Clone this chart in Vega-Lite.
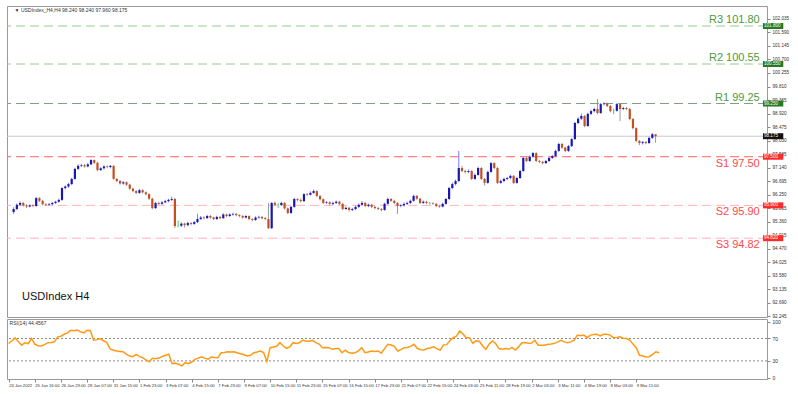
{
"$schema":"https://vega.github.io/schema/vega-lite/v6.json",
"padding":{"left":5,"top":5,"right":0,"bottom":0},
"autosize":{"type":"pad"},
"background":"white",
"bounds":"flush",
"spacing":2,
"config":{"font":"Liberation Sans","view":{"stroke":"#9a9a9a"},"axis":{"labelFontSize":5,"labelColor":"#333333","tickColor":"#888888","tickSize":3,"labelPadding":2,"domain":false,"grid":false,"title":null,"labelOverlap":false,"labelFlush":false,"tickCount":60}},
"datasets":{
"candles":[
{"i":0,"o":95.68,"h":95.84,"l":95.62,"c":95.78,"r":61},
{"i":1,"o":95.78,"h":95.96,"l":95.74,"c":95.92,"r":66},
{"i":2,"o":95.92,"h":96.03,"l":95.88,"c":95.98,"r":71},
{"i":3,"o":95.98,"h":96.01,"l":95.86,"c":95.90,"r":64},
{"i":4,"o":95.90,"h":95.94,"l":95.81,"c":95.86,"r":58},
{"i":5,"o":95.86,"h":95.93,"l":95.83,"c":95.90,"r":62.5},
{"i":6,"o":95.90,"h":95.93,"l":95.84,"c":95.88,"r":61},
{"i":7,"o":95.88,"h":96.18,"l":95.86,"c":96.14,"r":70},
{"i":8,"o":96.14,"h":96.17,"l":96.01,"c":96.05,"r":60},
{"i":9,"o":96.05,"h":96.08,"l":95.90,"c":95.94,"r":57},
{"i":10,"o":95.94,"h":95.97,"l":95.88,"c":95.92,"r":56.6},
{"i":11,"o":95.92,"h":95.98,"l":95.89,"c":95.94,"r":59},
{"i":12,"o":95.94,"h":96.01,"l":95.91,"c":95.98,"r":62.5},
{"i":13,"o":95.98,"h":96.05,"l":95.95,"c":96.02,"r":63},
{"i":14,"o":96.02,"h":96.12,"l":95.99,"c":96.08,"r":64},
{"i":15,"o":96.08,"h":96.50,"l":96.05,"c":96.47,"r":73},
{"i":16,"o":96.47,"h":96.56,"l":96.42,"c":96.52,"r":74},
{"i":17,"o":96.52,"h":96.64,"l":96.48,"c":96.60,"r":77.5},
{"i":18,"o":96.60,"h":96.81,"l":96.57,"c":96.77,"r":80},
{"i":19,"o":96.77,"h":97.14,"l":96.74,"c":97.10,"r":84.6},
{"i":20,"o":97.10,"h":97.25,"l":97.06,"c":97.20,"r":84},
{"i":21,"o":97.20,"h":97.27,"l":97.16,"c":97.22,"r":85},
{"i":22,"o":97.22,"h":97.26,"l":97.14,"c":97.18,"r":82},
{"i":23,"o":97.18,"h":97.29,"l":97.15,"c":97.25,"r":80},
{"i":24,"o":97.25,"h":97.42,"l":97.22,"c":97.39,"r":84.6},
{"i":25,"o":97.39,"h":97.41,"l":97.26,"c":97.30,"r":84},
{"i":26,"o":97.30,"h":97.33,"l":97.02,"c":97.06,"r":67},
{"i":27,"o":97.06,"h":97.16,"l":97.03,"c":97.12,"r":68},
{"i":28,"o":97.12,"h":97.22,"l":97.08,"c":97.18,"r":69.6},
{"i":29,"o":97.18,"h":97.22,"l":97.12,"c":97.16,"r":66},
{"i":30,"o":97.16,"h":97.23,"l":97.12,"c":97.20,"r":63},
{"i":31,"o":97.20,"h":97.22,"l":96.74,"c":96.77,"r":52},
{"i":32,"o":96.77,"h":96.80,"l":96.66,"c":96.70,"r":49},
{"i":33,"o":96.70,"h":96.74,"l":96.58,"c":96.62,"r":47.7},
{"i":34,"o":96.62,"h":96.70,"l":96.58,"c":96.66,"r":47},
{"i":35,"o":96.66,"h":96.69,"l":96.54,"c":96.58,"r":46.4},
{"i":36,"o":96.58,"h":96.61,"l":96.41,"c":96.45,"r":42},
{"i":37,"o":96.45,"h":96.48,"l":96.33,"c":96.37,"r":38.7},
{"i":38,"o":96.37,"h":96.40,"l":96.27,"c":96.31,"r":37.5},
{"i":39,"o":96.31,"h":96.44,"l":96.28,"c":96.40,"r":41.7},
{"i":40,"o":96.40,"h":96.43,"l":96.29,"c":96.33,"r":38},
{"i":41,"o":96.33,"h":96.36,"l":96.23,"c":96.27,"r":35.7},
{"i":42,"o":96.27,"h":96.30,"l":96.08,"c":96.12,"r":32},
{"i":43,"o":96.12,"h":96.15,"l":95.77,"c":95.81,"r":28.6},
{"i":44,"o":95.81,"h":96.01,"l":95.78,"c":95.98,"r":34.6},
{"i":45,"o":95.98,"h":96.02,"l":95.91,"c":95.95,"r":34},
{"i":46,"o":95.95,"h":96.04,"l":95.92,"c":96.00,"r":35},
{"i":47,"o":96.00,"h":96.08,"l":95.97,"c":96.04,"r":38},
{"i":48,"o":96.04,"h":96.12,"l":96.00,"c":96.08,"r":40},
{"i":49,"o":96.08,"h":96.18,"l":96.04,"c":96.11,"r":41.8},
{"i":50,"o":96.11,"h":96.14,"l":95.16,"c":95.22,"r":25},
{"i":51,"o":95.22,"h":95.40,"l":95.18,"c":95.23,"r":26},
{"i":52,"o":95.23,"h":95.34,"l":95.19,"c":95.30,"r":24},
{"i":53,"o":95.30,"h":95.33,"l":95.17,"c":95.25,"r":21},
{"i":54,"o":95.25,"h":95.36,"l":95.21,"c":95.32,"r":26.8},
{"i":55,"o":95.32,"h":95.35,"l":95.24,"c":95.29,"r":25},
{"i":56,"o":95.29,"h":95.39,"l":95.26,"c":95.35,"r":28},
{"i":57,"o":95.35,"h":95.62,"l":95.32,"c":95.45,"r":32.8},
{"i":58,"o":95.45,"h":95.55,"l":95.42,"c":95.50,"r":35},
{"i":59,"o":95.50,"h":95.54,"l":95.44,"c":95.48,"r":37.5},
{"i":60,"o":95.48,"h":95.59,"l":95.45,"c":95.55,"r":35},
{"i":61,"o":95.55,"h":95.58,"l":95.46,"c":95.50,"r":33},
{"i":62,"o":95.50,"h":95.53,"l":95.41,"c":95.45,"r":37},
{"i":63,"o":95.45,"h":95.56,"l":95.42,"c":95.52,"r":36},
{"i":64,"o":95.52,"h":95.55,"l":95.44,"c":95.48,"r":35.7},
{"i":65,"o":95.48,"h":95.64,"l":95.45,"c":95.60,"r":44.6},
{"i":66,"o":95.60,"h":95.63,"l":95.51,"c":95.55,"r":45},
{"i":67,"o":95.55,"h":95.64,"l":95.52,"c":95.60,"r":46.4},
{"i":68,"o":95.60,"h":95.66,"l":95.56,"c":95.62,"r":46},
{"i":69,"o":95.62,"h":95.65,"l":95.54,"c":95.58,"r":46.4},
{"i":70,"o":95.58,"h":95.61,"l":95.51,"c":95.55,"r":44},
{"i":71,"o":95.55,"h":95.58,"l":95.46,"c":95.50,"r":42.9},
{"i":72,"o":95.50,"h":95.58,"l":95.47,"c":95.55,"r":41},
{"i":73,"o":95.55,"h":95.57,"l":95.41,"c":95.45,"r":38.7},
{"i":74,"o":95.45,"h":95.48,"l":95.38,"c":95.42,"r":40},
{"i":75,"o":95.42,"h":95.54,"l":95.39,"c":95.50,"r":44.6},
{"i":76,"o":95.50,"h":95.56,"l":95.47,"c":95.52,"r":46},
{"i":77,"o":95.52,"h":95.55,"l":95.44,"c":95.48,"r":47.7},
{"i":78,"o":95.48,"h":95.52,"l":95.41,"c":95.45,"r":45},
{"i":79,"o":95.45,"h":95.98,"l":95.12,"c":95.15,"r":28.6},
{"i":80,"o":95.15,"h":96.01,"l":95.12,"c":95.98,"r":53.6},
{"i":81,"o":95.98,"h":96.03,"l":95.88,"c":95.92,"r":55},
{"i":82,"o":95.92,"h":95.97,"l":95.82,"c":95.91,"r":56},
{"i":83,"o":95.91,"h":96.02,"l":95.88,"c":95.98,"r":62.5},
{"i":84,"o":95.98,"h":96.01,"l":95.76,"c":95.80,"r":56.6},
{"i":85,"o":95.80,"h":95.83,"l":95.61,"c":95.65,"r":52.5},
{"i":86,"o":95.65,"h":95.88,"l":95.62,"c":95.85,"r":55},
{"i":87,"o":95.85,"h":96.15,"l":95.82,"c":96.11,"r":62.5},
{"i":88,"o":96.11,"h":96.14,"l":96.03,"c":96.08,"r":61},
{"i":89,"o":96.08,"h":96.12,"l":96.00,"c":96.04,"r":62.5},
{"i":90,"o":96.04,"h":96.30,"l":96.01,"c":96.27,"r":67.3},
{"i":91,"o":96.27,"h":96.31,"l":96.21,"c":96.25,"r":65},
{"i":92,"o":96.25,"h":96.36,"l":96.22,"c":96.31,"r":65},
{"i":93,"o":96.31,"h":96.42,"l":96.28,"c":96.37,"r":66.8},
{"i":94,"o":96.37,"h":96.39,"l":96.17,"c":96.21,"r":62.5},
{"i":95,"o":96.21,"h":96.24,"l":96.06,"c":96.10,"r":60},
{"i":96,"o":96.10,"h":96.13,"l":95.94,"c":95.98,"r":53.6},
{"i":97,"o":95.98,"h":96.04,"l":95.95,"c":96.00,"r":54},
{"i":98,"o":96.00,"h":96.03,"l":95.91,"c":95.95,"r":53.6},
{"i":99,"o":95.95,"h":96.02,"l":95.91,"c":95.98,"r":50.7},
{"i":100,"o":95.98,"h":96.06,"l":95.94,"c":96.02,"r":52},
{"i":101,"o":96.02,"h":96.05,"l":95.91,"c":95.95,"r":52},
{"i":102,"o":95.95,"h":95.98,"l":95.74,"c":95.78,"r":44.6},
{"i":103,"o":95.78,"h":95.86,"l":95.75,"c":95.82,"r":49},
{"i":104,"o":95.82,"h":95.85,"l":95.70,"c":95.75,"r":45},
{"i":105,"o":95.75,"h":95.82,"l":95.71,"c":95.78,"r":43.6},
{"i":106,"o":95.78,"h":95.89,"l":95.74,"c":95.85,"r":44.6},
{"i":107,"o":95.85,"h":95.96,"l":95.81,"c":95.92,"r":48},
{"i":108,"o":95.92,"h":96.04,"l":95.88,"c":95.98,"r":53.6},
{"i":109,"o":95.98,"h":96.01,"l":95.84,"c":95.88,"r":44.6},
{"i":110,"o":95.88,"h":95.96,"l":95.84,"c":95.92,"r":46},
{"i":111,"o":95.92,"h":95.95,"l":95.81,"c":95.85,"r":47.7},
{"i":112,"o":95.85,"h":95.89,"l":95.77,"c":95.81,"r":47},
{"i":113,"o":95.81,"h":95.85,"l":95.74,"c":95.78,"r":47.7},
{"i":114,"o":95.78,"h":95.81,"l":95.70,"c":95.75,"r":43.6},
{"i":115,"o":95.75,"h":95.99,"l":95.72,"c":95.95,"r":52},
{"i":116,"o":95.95,"h":96.16,"l":95.92,"c":96.11,"r":59.6},
{"i":117,"o":96.11,"h":96.14,"l":96.01,"c":96.05,"r":58.4},
{"i":118,"o":96.05,"h":96.08,"l":95.94,"c":95.98,"r":56},
{"i":119,"o":95.98,"h":96.01,"l":95.62,"c":95.88,"r":47.7},
{"i":120,"o":95.88,"h":95.94,"l":95.84,"c":95.90,"r":50},
{"i":121,"o":95.90,"h":95.99,"l":95.86,"c":95.95,"r":53.6},
{"i":122,"o":95.95,"h":96.02,"l":95.91,"c":95.98,"r":54},
{"i":123,"o":95.98,"h":96.09,"l":95.94,"c":96.05,"r":56},
{"i":124,"o":96.05,"h":96.25,"l":96.02,"c":96.21,"r":59.6},
{"i":125,"o":96.21,"h":96.24,"l":96.08,"c":96.12,"r":52.5},
{"i":126,"o":96.12,"h":96.15,"l":95.94,"c":95.98,"r":50},
{"i":127,"o":95.98,"h":96.06,"l":95.95,"c":96.02,"r":49.5},
{"i":128,"o":96.02,"h":96.05,"l":95.94,"c":95.98,"r":52},
{"i":129,"o":95.98,"h":96.01,"l":95.93,"c":95.97,"r":53},
{"i":130,"o":95.97,"h":96.00,"l":95.92,"c":95.95,"r":55},
{"i":131,"o":95.95,"h":95.98,"l":95.84,"c":95.88,"r":52},
{"i":132,"o":95.88,"h":95.92,"l":95.82,"c":95.86,"r":48.9},
{"i":133,"o":95.86,"h":95.99,"l":95.83,"c":95.95,"r":58.4},
{"i":134,"o":95.95,"h":96.15,"l":95.92,"c":96.11,"r":59},
{"i":135,"o":96.11,"h":96.51,"l":96.08,"c":96.47,"r":66},
{"i":136,"o":96.47,"h":96.65,"l":96.43,"c":96.60,"r":71.4},
{"i":137,"o":96.60,"h":96.75,"l":96.56,"c":96.70,"r":74},
{"i":138,"o":96.70,"h":97.69,"l":96.66,"c":97.13,"r":83.4},
{"i":139,"o":97.13,"h":97.20,"l":96.99,"c":97.03,"r":78},
{"i":140,"o":97.03,"h":97.07,"l":96.95,"c":97.00,"r":71.4},
{"i":141,"o":97.00,"h":97.08,"l":96.96,"c":97.03,"r":71.4},
{"i":142,"o":97.03,"h":97.06,"l":96.73,"c":96.77,"r":61.4},
{"i":143,"o":96.77,"h":96.95,"l":96.74,"c":96.90,"r":66},
{"i":144,"o":96.90,"h":97.17,"l":96.87,"c":97.13,"r":65},
{"i":145,"o":97.13,"h":97.16,"l":96.73,"c":96.77,"r":56.6},
{"i":146,"o":96.77,"h":96.80,"l":96.55,"c":96.64,"r":50.7},
{"i":147,"o":96.64,"h":97.04,"l":96.61,"c":97.00,"r":60},
{"i":148,"o":97.00,"h":97.33,"l":96.97,"c":97.29,"r":65.5},
{"i":149,"o":97.29,"h":97.32,"l":97.09,"c":97.13,"r":61},
{"i":150,"o":97.13,"h":97.16,"l":96.60,"c":96.64,"r":52},
{"i":151,"o":96.64,"h":96.75,"l":96.61,"c":96.70,"r":50.7},
{"i":152,"o":96.70,"h":96.81,"l":96.66,"c":96.77,"r":52},
{"i":153,"o":96.77,"h":96.84,"l":96.73,"c":96.80,"r":50.7},
{"i":154,"o":96.80,"h":96.91,"l":96.76,"c":96.87,"r":54},
{"i":155,"o":96.87,"h":96.90,"l":96.60,"c":96.64,"r":49.5},
{"i":156,"o":96.64,"h":96.84,"l":96.61,"c":96.80,"r":55},
{"i":157,"o":96.80,"h":97.07,"l":96.77,"c":97.03,"r":62.5},
{"i":158,"o":97.03,"h":97.50,"l":97.00,"c":97.46,"r":63},
{"i":159,"o":97.46,"h":97.49,"l":97.32,"c":97.36,"r":61.4},
{"i":160,"o":97.36,"h":97.54,"l":97.33,"c":97.50,"r":62},
{"i":161,"o":97.50,"h":97.66,"l":97.47,"c":97.62,"r":66.8},
{"i":162,"o":97.62,"h":97.65,"l":97.32,"c":97.36,"r":58},
{"i":163,"o":97.36,"h":97.40,"l":97.29,"c":97.33,"r":57.9},
{"i":164,"o":97.33,"h":97.37,"l":97.25,"c":97.29,"r":57.9},
{"i":165,"o":97.29,"h":97.40,"l":97.26,"c":97.36,"r":59.6},
{"i":166,"o":97.36,"h":97.50,"l":97.33,"c":97.46,"r":60},
{"i":167,"o":97.46,"h":97.56,"l":97.43,"c":97.52,"r":61.4},
{"i":168,"o":97.52,"h":97.73,"l":97.49,"c":97.69,"r":64},
{"i":169,"o":97.69,"h":97.96,"l":97.66,"c":97.92,"r":66.8},
{"i":170,"o":97.92,"h":97.95,"l":97.76,"c":97.80,"r":64},
{"i":171,"o":97.80,"h":97.83,"l":97.65,"c":97.69,"r":62.5},
{"i":172,"o":97.69,"h":97.89,"l":97.66,"c":97.85,"r":64},
{"i":173,"o":97.85,"h":98.12,"l":97.82,"c":98.08,"r":66.8},
{"i":174,"o":98.08,"h":98.65,"l":98.05,"c":98.61,"r":76.2},
{"i":175,"o":98.61,"h":98.80,"l":98.57,"c":98.75,"r":75},
{"i":176,"o":98.75,"h":98.92,"l":98.71,"c":98.84,"r":76},
{"i":177,"o":98.84,"h":98.87,"l":98.47,"c":98.51,"r":71.4},
{"i":178,"o":98.51,"h":98.95,"l":98.48,"c":98.91,"r":76},
{"i":179,"o":98.91,"h":99.05,"l":98.87,"c":99.00,"r":77},
{"i":180,"o":99.00,"h":99.12,"l":98.96,"c":99.07,"r":77.5},
{"i":181,"o":99.07,"h":99.40,"l":98.90,"c":98.94,"r":74.5},
{"i":182,"o":98.94,"h":99.27,"l":98.91,"c":99.23,"r":77.5},
{"i":183,"o":99.23,"h":99.29,"l":99.19,"c":99.25,"r":77.5},
{"i":184,"o":99.25,"h":99.28,"l":99.13,"c":99.17,"r":76},
{"i":185,"o":99.17,"h":99.20,"l":98.96,"c":99.00,"r":71.4},
{"i":186,"o":99.00,"h":99.08,"l":98.90,"c":99.01,"r":72},
{"i":187,"o":99.01,"h":99.27,"l":98.98,"c":99.23,"r":73},
{"i":188,"o":99.23,"h":99.26,"l":98.67,"c":99.07,"r":70.5},
{"i":189,"o":99.07,"h":99.14,"l":99.03,"c":99.10,"r":70},
{"i":190,"o":99.10,"h":99.13,"l":99.03,"c":99.07,"r":67.3},
{"i":191,"o":99.07,"h":99.10,"l":98.70,"c":98.74,"r":60},
{"i":192,"o":98.74,"h":98.77,"l":98.40,"c":98.44,"r":53.6},
{"i":193,"o":98.44,"h":98.47,"l":97.98,"c":98.02,"r":40},
{"i":194,"o":98.02,"h":98.05,"l":97.88,"c":97.95,"r":38.7},
{"i":195,"o":97.95,"h":98.02,"l":97.90,"c":97.98,"r":37},
{"i":196,"o":97.98,"h":98.01,"l":97.91,"c":97.95,"r":37.5},
{"i":197,"o":97.95,"h":98.16,"l":97.92,"c":98.12,"r":41.8},
{"i":198,"o":98.12,"h":98.28,"l":98.08,"c":98.24,"r":46.4},
{"i":199,"o":98.24,"h":98.24,"l":97.96,"c":98.175,"r":44.4567}
],
"levels":[
{"name":"R3 101.80","kind":"R","v":101.80},
{"name":"R2 100.55","kind":"R","v":100.55},
{"name":"R1 99.25","kind":"R","v":99.25},
{"name":"S1 97.50","kind":"S","v":97.50},
{"name":"S2 95.90","kind":"S","v":95.90},
{"name":"S3 94.82","kind":"S","v":94.82}
]
},
"vconcat":[
{
"width":760,"height":311,
"layer":[
{"data":{"name":"levels"},"mark":{"type":"rule","strokeDash":[9,5],"strokeWidth":1},
 "encoding":{"y":{"field":"v","type":"quantitative","scale":{"domain":[92.228,102.458],"nice":false,"zero":false},
   "axis":{"orient":"right","labelOverlap":false,"labelBound":false,"tickCount":60,"labelFontSize":4.6,"values":[102.035,101.59,101.145,100.7,100.255,99.81,99.365,98.92,98.475,98.03,97.585,97.14,96.695,96.25,95.805,95.36,94.915,94.47,94.025,93.58,93.135,92.69,92.245],"format":".3f"}},
  "color":{"field":"name","type":"nominal","legend":null,"scale":{"domain":["R3 101.80","R2 100.55","R1 99.25","S1 97.50","S2 95.90","S3 94.82"],"range":["#9cc894","#9cc894","#80a080","#ff6464","#ffb4b4","#ffb4b4"]}}}},
{"data":{"name":"candles"},"transform":[{"filter":"datum.i==199"}],"mark":{"type":"rule","color":"#c8c8c8","strokeWidth":1},
 "encoding":{"y":{"field":"c","type":"quantitative"}}},
{"data":{"name":"candles"},"mark":{"type":"rule","strokeWidth":1},
 "encoding":{"x":{"field":"i","type":"quantitative","scale":{"domain":[-0.5,232],"nice":false,"zero":false},"axis":null},
  "y":{"field":"l","type":"quantitative"},"y2":{"field":"h"},
  "color":{"condition":[{"test":"abs(datum.c-datum.o)<0.015","value":"#55cc55"},{"test":"datum.c>datum.o","value":"#7a7aff"}],"value":"#9a9a9a"}}},
{"data":{"name":"candles"},"mark":{"type":"bar","size":2.2},
 "encoding":{"x":{"field":"i","type":"quantitative"},
  "y":{"field":"o","type":"quantitative"},"y2":{"field":"c"},
  "color":{"condition":[{"test":"abs(datum.c-datum.o)<0.015","value":"#55cc55"},{"test":"datum.c>datum.o","value":"#1818b0"}],"value":"#c4501e"}}},
{"data":{"name":"levels"},"transform":[{"filter":"datum.kind=='R'"}],"mark":{"type":"text","align":"right","baseline":"alphabetic","dy":-3,"fontSize":11,"color":"#4e9a3e"},
 "encoding":{"x":{"datum":231.3},"y":{"field":"v","type":"quantitative"},"text":{"field":"name"}}},
{"data":{"name":"levels"},"transform":[{"filter":"datum.kind=='S'"}],"mark":{"type":"text","align":"right","baseline":"alphabetic","dy":10,"fontSize":11,"color":"#ff4a4a"},
 "encoding":{"x":{"datum":231.3},"y":{"field":"v","type":"quantitative"},"text":{"field":"name"}}},
{"data":{"name":"levels"},"mark":{"type":"rule","strokeWidth":6,"strokeCap":"butt"},
 "encoding":{"x":{"datum":232.3},"x2":{"datum":238.6},"y":{"field":"v","type":"quantitative"},
  "color":{"condition":{"test":"datum.kind=='R'","value":"#267a26"},"value":"#ff2a2a"}}},
{"data":{"name":"candles"},"transform":[{"filter":"datum.i==199"}],"mark":{"type":"rule","strokeWidth":6,"strokeCap":"butt","color":"#111111"},
 "encoding":{"x":{"datum":232.3},"x2":{"datum":238.6},"y":{"field":"c","type":"quantitative"}}},
{"data":{"name":"levels"},"mark":{"type":"text","align":"left","baseline":"middle","fontSize":4.6,"color":"white","dx":1},
 "encoding":{"x":{"datum":232.3},"y":{"field":"v","type":"quantitative"},"text":{"field":"v","format":".3f"}}},
{"data":{"name":"candles"},"transform":[{"filter":"datum.i==199"}],"mark":{"type":"text","align":"left","baseline":"middle","fontSize":4.6,"color":"white","dx":1},
 "encoding":{"x":{"datum":232.3},"y":{"field":"c","type":"quantitative"},"text":{"field":"c","format":".3f"}}},
{"data":{"values":[{"t":"USDIndex H4"}]},"mark":{"type":"text","align":"left","baseline":"middle","fontSize":11,"color":"#111111"},
 "encoding":{"x":{"datum":2.6},"y":{"datum":92.89},"text":{"field":"t"}}},
{"data":{"values":[{"t":"▼ USDIndex_H4,H4  98.240 98.240 97.960 98.175"}]},"mark":{"type":"text","align":"left","baseline":"middle","fontSize":5,"color":"#333333"},
 "encoding":{"x":{"datum":0.3},"y":{"datum":102.33},"text":{"field":"t"}}}
]
},
{
"width":760,"height":60,
"layer":[
{"data":{"values":[{"lvl":70},{"lvl":30}]},"mark":{"type":"rule","strokeDash":[2,2],"color":"#8a8a8a","strokeWidth":1},
 "encoding":{"y":{"field":"lvl","type":"quantitative","scale":{"domain":[-2.3,104.8],"nice":false,"zero":false},"axis":{"orient":"right","labelOverlap":false,"labelBound":false,"tickCount":60,"values":[0,30,70,100]}}}},
{"data":{"name":"candles"},"mark":{"type":"line","color":"#ff9a14","strokeWidth":1.5},
 "encoding":{"x":{"field":"i","type":"quantitative","scale":{"domain":[-0.5,232],"nice":false,"zero":false},
   "axis":{"orient":"bottom","labelOverlap":false,"labelBound":false,"tickCount":60,"labelFontSize":4.2,"values":[0,8,16,24,32,40,48,56,64,72,80,88,96,104,112,120,128,136,144,152,160,168,176,184,192],"labelAlign":"left","labelPadding":1,"tickSize":3,
    "labelExpr":"['24 Jan 2022','25 Jan 16:00','26 Jan 23:00','28 Jan 07:00','31 Jan 15:00','1 Feb 23:00','3 Feb 07:00','4 Feb 15:00','7 Feb 23:00','9 Feb 07:00','10 Feb 15:00','11 Feb 23:00','15 Feb 07:00','16 Feb 15:00','17 Feb 23:00','21 Feb 07:00','22 Feb 15:00','24 Feb 03:00','25 Feb 11:00','28 Feb 19:00','2 Mar 03:00','3 Mar 11:00','4 Mar 19:00','8 Mar 03:00','9 Mar 11:00'][round(datum.value/8)]"}},
  "y":{"field":"r","type":"quantitative"}}},
{"data":{"values":[{"t":"RSI(14) 44.4567"}]},"mark":{"type":"text","align":"left","baseline":"middle","fontSize":5,"color":"#333333"},
 "encoding":{"x":{"datum":0.3},"y":{"datum":97.7},"text":{"field":"t"}}}
]
}
]
}
